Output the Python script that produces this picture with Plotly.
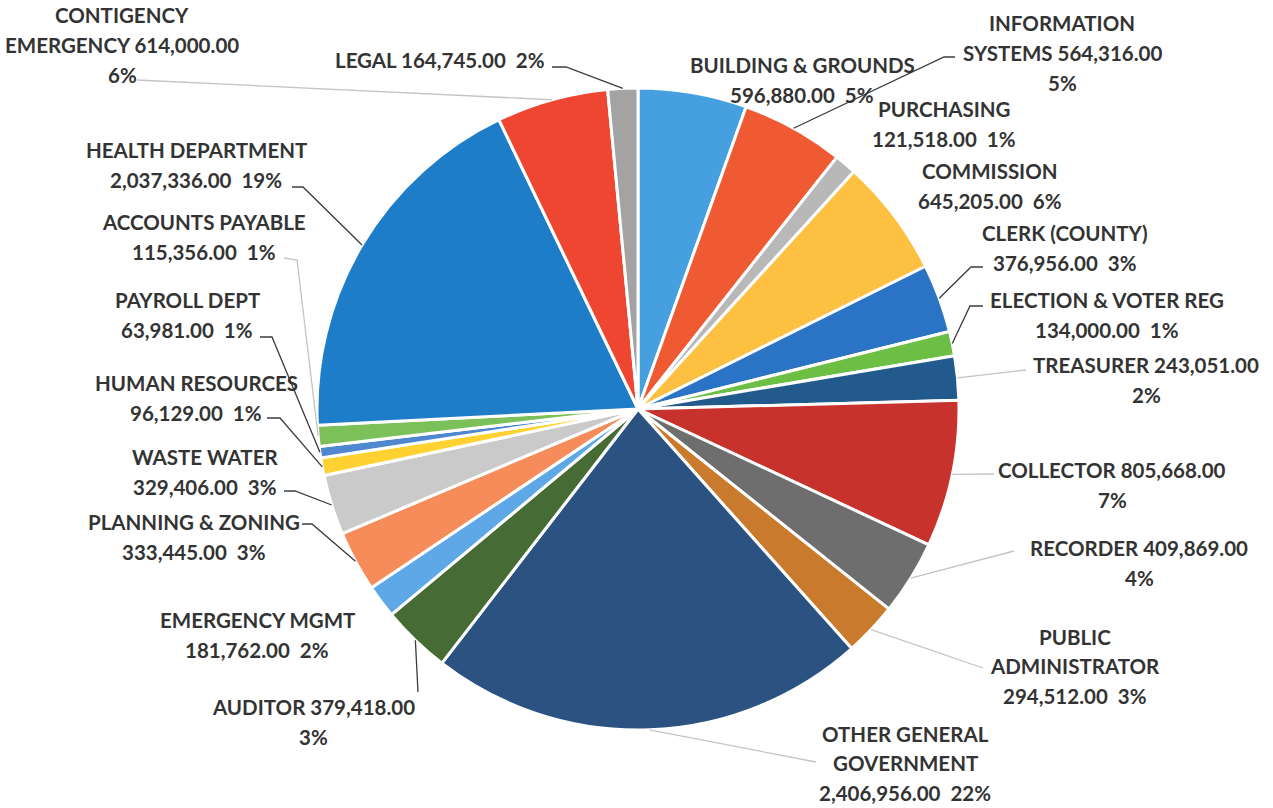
import math
import plotly.graph_objects as go

# County general-fund budget by department, clockwise from 12 o'clock
departments = [
    "BUILDING & GROUNDS", "INFORMATION SYSTEMS", "PURCHASING", "COMMISSION",
    "CLERK (COUNTY)", "ELECTION & VOTER REG", "TREASURER", "COLLECTOR",
    "RECORDER", "PUBLIC ADMINISTRATOR", "OTHER GENERAL GOVERNMENT", "AUDITOR",
    "EMERGENCY MGMT", "PLANNING & ZONING", "WASTE WATER", "HUMAN RESOURCES",
    "PAYROLL DEPT", "ACCOUNTS PAYABLE", "HEALTH DEPARTMENT",
    "CONTIGENCY EMERGENCY", "LEGAL",
]
budget = [
    596880.00, 564316.00, 121518.00, 645205.00,
    376956.00, 134000.00, 243051.00, 805668.00,
    409869.00, 294512.00, 2406956.00, 379418.00,
    181762.00, 333445.00, 329406.00, 96129.00,
    63981.00, 115356.00, 2037336.00,
    614000.00, 164745.00,
]

# How each data label breaks its department name into lines
label_name_lines = [
    ["BUILDING & GROUNDS"], ["INFORMATION", "SYSTEMS"], ["PURCHASING"], ["COMMISSION"],
    ["CLERK (COUNTY)"], ["ELECTION & VOTER REG"], ["TREASURER"], ["COLLECTOR"],
    ["RECORDER"], ["PUBLIC", "ADMINISTRATOR"], ["OTHER GENERAL", "GOVERNMENT"], ["AUDITOR"],
    ["EMERGENCY MGMT"], ["PLANNING & ZONING"], ["WASTE WATER"], ["HUMAN RESOURCES"],
    ["PAYROLL DEPT"], ["ACCOUNTS PAYABLE"], ["HEALTH DEPARTMENT"],
    ["CONTIGENCY", "EMERGENCY"], ["LEGAL"],
]
# "below": value + percent on their own line; "inline": value follows the name,
# percent on its own line; "single": everything on one line
label_style = [
    "below", "inline", "below", "below",
    "below", "below", "inline", "inline",
    "inline", "below", "below", "inline",
    "below", "below", "below", "below",
    "below", "below", "below",
    "inline", "single",
]

slice_colors = [
    "#46A0E0", "#F05A32", "#B8B8B8", "#FDC040",
    "#2A73C5", "#6DBE45", "#235A8E", "#C8322D",
    "#6E6E6E", "#C97A2C", "#2C5282", "#466B35",
    "#5FA8E8", "#F58C5A", "#CACACA", "#FFD232",
    "#4F87D0", "#7CC05A", "#1E7DC8",
    "#EE4630", "#A3A3A3",
]

# ---- layout geometry (pixels) ----
W, H = 1273, 808
PIE_CX, PIE_CY, PIE_R = 638, 409, 321

# centre of each label block
label_pos = [
    (802, 80), (1062, 53), (944, 124), (990, 186),
    (1065, 248), (1107, 315), (1146, 380), (1112, 485),
    (1139, 563), (1075, 666), (905, 763), (313, 722),
    (257, 635), (194, 537), (205, 472), (196, 398),
    (187, 315), (204, 237), (196, 165),
    (122, 45), (440, 60),
]
# label-side points of each leader line (the slice end is computed)
leader_from = [
    None, [(955, 57), (944, 57)], None, None,
    [(983, 267), (971, 267)], [(983, 306), (970, 306)], [(1026, 370)], [(994, 474)],
    [(1014, 551)], [(983, 668)], [(816, 762)], [(418, 692)],
    None, [(302, 524), (312, 524)], [(284, 491), (295, 491)], [(267, 418), (280, 418)],
    [(260, 337), (272, 337)], [(284, 258), (297, 260)], [(292, 187), (303, 187)],
    [(137, 80)], [(552, 67), (566, 67)],
]
leader_dark = [
    False, True, False, False,
    True, True, False, False,
    False, False, False, True,
    False, True, True, True,
    True, False, True,
    False, True,
]

LINE_PITCH = 29.5
TEXT_COLOR = "#333333"
FONT = "Lato"
FONT_SIZE = 20.5


def px(x):
    return x / W


def py(y):
    return 1 - y / H


total = sum(budget)

fig = go.Figure(
    go.Pie(
        labels=departments,
        values=budget,
        sort=False,
        direction="clockwise",
        rotation=0,
        marker=dict(colors=slice_colors, line=dict(color="white", width=3)),
        textinfo="none",
        hoverinfo="label+value+percent",
        domain=dict(
            x=[px(PIE_CX - PIE_R), px(PIE_CX + PIE_R)],
            y=[py(PIE_CY + PIE_R), py(PIE_CY - PIE_R)],
        ),
    )
)

annotations = []
shapes = []
cum = 0.0
for i, val in enumerate(budget):
    pct = f"{round(100 * val / total)}%"
    amount = f"{val:,.2f}"
    names = label_name_lines[i]
    style = label_style[i]
    if style == "below":
        lines = names + [f"{amount}  {pct}"]
    elif style == "inline":
        lines = names[:-1] + [f"{names[-1]} {amount}", pct]
    else:
        lines = [f"{' '.join(names)} {amount}  {pct}"]

    cx, cy = label_pos[i]
    n = len(lines)
    for k, text in enumerate(lines):
        ly = cy + (k - (n - 1) / 2) * LINE_PITCH
        annotations.append(dict(
            x=px(cx), y=py(ly), xref="paper", yref="paper",
            text=f"<b>{text}</b>", showarrow=False,
            xanchor="center", yanchor="middle",
            font=dict(family=FONT, size=FONT_SIZE, color=TEXT_COLOR),
        ))

    # leader line: from the label to the slice edge at the slice's mid-angle
    mid = (cum + val / 2) / total * 2 * math.pi
    cum += val
    if leader_from[i] is None:
        continue
    ex = PIE_CX + PIE_R * math.sin(mid)
    ey = PIE_CY - PIE_R * math.cos(mid)
    pts = leader_from[i] + [(ex, ey)]
    path = "M " + " L ".join(f"{px(x):.5f},{py(y):.5f}" for x, y in pts)
    shapes.append(dict(
        type="path", path=path, xref="paper", yref="paper",
        line=dict(color="#3c3c3c" if leader_dark[i] else "#c4c4c4", width=1.3),
    ))

fig.update_layout(
    width=W, height=H,
    margin=dict(l=0, r=0, t=0, b=0),
    paper_bgcolor="white",
    plot_bgcolor="white",
    showlegend=False,
    annotations=annotations,
    shapes=shapes,
)

fig.write_html("out.html", config={"displayModeBar": False})
